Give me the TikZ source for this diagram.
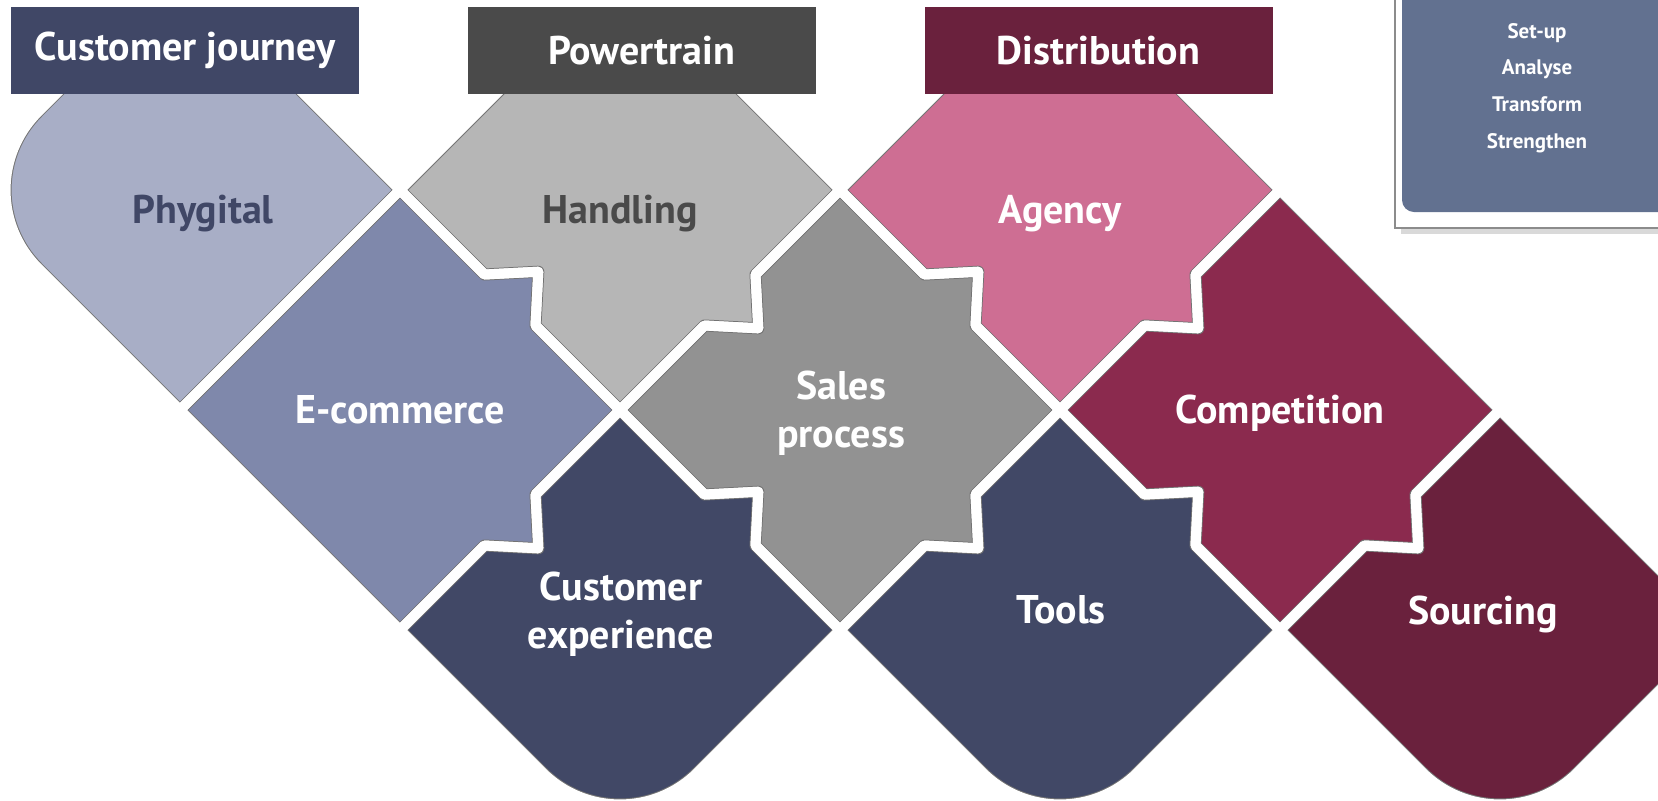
\documentclass[tikz,border=0pt]{standalone}
\usepackage{fontspec}
\setmainfont{PT Sans}
\usetikzlibrary{positioning}

\definecolor{navy}{RGB}{64,71,102}
\definecolor{phygfill}{RGB}{168,174,198}
\definecolor{ecomfill}{RGB}{127,136,171}
\definecolor{cxfill}{RGB}{65,72,102}
\definecolor{handfill}{RGB}{182,182,182}
\definecolor{salesfill}{RGB}{146,146,146}
\definecolor{ptgray}{RGB}{74,74,74}
\definecolor{agencyfill}{RGB}{206,110,147}
\definecolor{compfill}{RGB}{139,42,78}
\definecolor{sourcefill}{RGB}{106,33,61}
\definecolor{panelblue}{RGB}{98,113,144}

\begin{document}
\begin{tikzpicture}[
        x=0.5pt, y=-0.5pt,
        outline/.style={draw=black!55, line width=6pt, line join=round, rounded corners=3pt},
        gap/.style={draw=white, line width=5pt, line join=round, rounded corners=3pt},
        tile/.style={font=\bfseries\fontsize{20}{24}\selectfont, text=white, align=center, inner sep=0pt},
        headbox/.style={font=\bfseries\fontsize{20}{24}\selectfont, text=white, minimum width=174pt, minimum height=43.5pt, inner sep=0pt},
        steps/.style={font=\bfseries\fontsize{10.5}{18.35}\selectfont, text=white, align=center, inner sep=0pt}
    ]
        \useasboundingbox (0,0) rectangle (1658,800);

        % Đường viền các mảnh ghép
        \path[shift={(180,190)}, save path=\pPhyg] (0,-220) -- (220,0) -- (0,220) -- (-142.2,77.8) .. controls (-185.2,34.8) and (-185.2,-34.8) .. (-142.2,-77.8) -- cycle;
        \path[shift={(620,190)}, save path=\pHand] (0,-220) -- (220,0) -- (135.5,84.5) -- (138.3,138.3) -- (84.5,135.5) -- (0,220) -- (-84.5,135.5) -- (-81.7,81.7) -- (-135.5,84.5) -- (-220,0) -- cycle;
        \path[shift={(1060,190)}, save path=\pAgency] (0,-220) -- (220,0) -- (135.5,84.5) -- (138.3,138.3) -- (84.5,135.5) -- (0,220) -- (-84.5,135.5) -- (-81.7,81.7) -- (-135.5,84.5) -- (-220,0) -- cycle;
        \path[shift={(400,410)}, save path=\pEcom] (0,-220) -- (84.5,-135.5) -- (138.3,-138.3) -- (135.5,-84.5) -- (220,0) -- (135.5,84.5) -- (138.3,138.3) -- (84.5,135.5) -- (0,220) -- (-220,0) -- cycle;
        \path[shift={(840,410)}, save path=\pSales] (0,-220) -- (84.5,-135.5) -- (138.3,-138.3) -- (135.5,-84.5) -- (220,0) -- (135.5,84.5) -- (138.3,138.3) -- (84.5,135.5) -- (0,220) -- (-84.5,135.5) -- (-81.7,81.7) -- (-135.5,84.5) -- (-220,0) -- (-135.5,-84.5) -- (-81.7,-81.7) -- (-84.5,-135.5) -- cycle;
        \path[shift={(1280,410)}, save path=\pComp] (0,-220) -- (220,0) -- (135.5,84.5) -- (138.3,138.3) -- (84.5,135.5) -- (0,220) -- (-84.5,135.5) -- (-81.7,81.7) -- (-135.5,84.5) -- (-220,0) -- (-135.5,-84.5) -- (-81.7,-81.7) -- (-84.5,-135.5) -- cycle;
        \path[shift={(620,630)}, save path=\pCx] (0,-220) -- (84.5,-135.5) -- (138.3,-138.3) -- (135.5,-84.5) -- (220,0) -- (77.8,142.2) .. controls (34.8,185.2) and (-34.8,185.2) .. (-77.8,142.2) -- (-220,0) -- (-135.5,-84.5) -- (-81.7,-81.7) -- (-84.5,-135.5) -- cycle;
        \path[shift={(1060,630)}, save path=\pTools] (0,-220) -- (84.5,-135.5) -- (138.3,-138.3) -- (135.5,-84.5) -- (220,0) -- (77.8,142.2) .. controls (34.8,185.2) and (-34.8,185.2) .. (-77.8,142.2) -- (-220,0) -- (-135.5,-84.5) -- (-81.7,-81.7) -- (-84.5,-135.5) -- cycle;
        \path[shift={(1500,630)}, save path=\pSource] (0,-220) -- (220,0) -- (77.8,142.2) .. controls (34.8,185.2) and (-34.8,185.2) .. (-77.8,142.2) -- (-220,0) -- (-135.5,-84.5) -- (-81.7,-81.7) -- (-84.5,-135.5) -- cycle;

        \begin{scope}
            \clip (0,7) rectangle (1658,800);
            % Tô màu các mảnh
            \begin{scope} \clip[use path=\pPhyg]; \filldraw[outline, fill=phygfill, use path=\pPhyg]; \end{scope}
            \begin{scope} \clip[use path=\pHand]; \filldraw[outline, fill=handfill, use path=\pHand]; \end{scope}
            \begin{scope} \clip[use path=\pAgency]; \filldraw[outline, fill=agencyfill, use path=\pAgency]; \end{scope}
            \begin{scope} \clip[use path=\pEcom]; \filldraw[outline, fill=ecomfill, use path=\pEcom]; \end{scope}
            \begin{scope} \clip[use path=\pSales]; \filldraw[outline, fill=salesfill, use path=\pSales]; \end{scope}
            \begin{scope} \clip[use path=\pComp]; \filldraw[outline, fill=compfill, use path=\pComp]; \end{scope}
            \begin{scope} \clip[use path=\pCx]; \filldraw[outline, fill=cxfill, use path=\pCx]; \end{scope}
            \begin{scope} \clip[use path=\pTools]; \filldraw[outline, fill=cxfill, use path=\pTools]; \end{scope}
            \begin{scope} \clip[use path=\pSource]; \filldraw[outline, fill=sourcefill, use path=\pSource]; \end{scope}

            % Khe trắng giữa các mảnh
            \draw[gap, use path=\pPhyg];
            \draw[gap, use path=\pHand];
            \draw[gap, use path=\pAgency];
            \draw[gap, use path=\pEcom];
            \draw[gap, use path=\pSales];
            \draw[gap, use path=\pComp];
            \draw[gap, use path=\pCx];
            \draw[gap, use path=\pTools];
            \draw[gap, use path=\pSource];
        \end{scope}

        % Tiêu đề
        \node[headbox, fill=navy] (journey) at (185,50.5) {Customer journey};
        \node[headbox, fill=ptgray, right=54pt of journey] (powertrain) {Powertrain};
        \node[headbox, fill=sourcefill, right=54pt of powertrain] (distribution) {Distribution};

        % Nhãn các mảnh
        \node[tile, text=navy] (phygital) at (203,214) {Phygital};
        \node[tile, text=ptgray] (handling) at (620,214) {Handling};
        \node[tile] (agency) at (1060,214) {Agency};
        \node[tile] (ecommerce) at (400,410) {E-commerce};
        \node[tile] (sales) at (841,413) {Sales\\process};
        \node[tile] (competition) at (1280,413) {Competition};
        \node[tile] (experience) at (621,614) {Customer\\experience};
        \node[tile] (tools) at (1061,610) {Tools};
        \node[tile] (sourcing) at (1483,614) {Sourcing};

        % Khung bên phải
        \fill[black!15] (1401,-10) rectangle (1670,234);
        \filldraw[fill=white, draw=black!45, line width=1pt] (1395,-10) rectangle (1670,228);
        \fill[panelblue, rounded corners=6pt] (1402,-20) rectangle (1670,212);
        \node[steps] (phases) at (1537,88) {Set-up\\Analyse\\Transform\\Strengthen};
    \end{tikzpicture}
\end{document}
